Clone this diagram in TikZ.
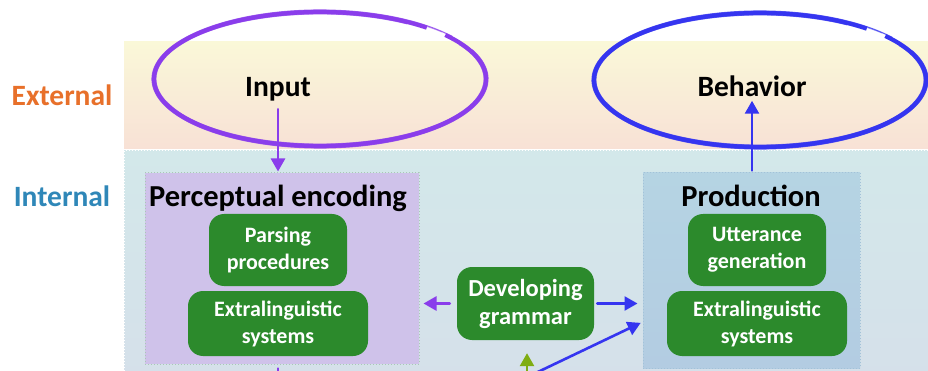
\documentclass[tikz,border=0pt]{standalone}
\usepackage{fontspec}
\setmainfont{Carlito}
\usetikzlibrary{arrows.meta,shapes.geometric}
\definecolor{extC}{HTML}{E8702A}
\definecolor{intC}{HTML}{2F87B8}
\definecolor{purp}{HTML}{8A3DEB}
\definecolor{blu}{HTML}{3535F0}
\definecolor{grn}{HTML}{2C8A2C}
\definecolor{oliveC}{HTML}{7FAD12}
\definecolor{extTop}{HTML}{FAF8D8}
\definecolor{extBot}{HTML}{F8E1D6}
\definecolor{intTop}{HTML}{D3E8EA}
\definecolor{intBot}{HTML}{D5E0EA}
\definecolor{percC}{HTML}{CFC2EA}
\definecolor{percBd}{HTML}{A9C8B6}
\definecolor{prodTop}{HTML}{B5D4E3}
\definecolor{prodBot}{HTML}{B3CCE2}
\definecolor{prodBd}{HTML}{A3C2D8}
\newcommand\brushEllipse[2]{%
  \draw[#2, line width=4.2pt] (#1) ++(50:166pt and 67pt) arc[start angle=50, end angle=401, x radius=166pt, y radius=67pt];
  \draw[#2, line width=1.1pt, opacity=.8] (#1) ++(38:168pt and 69pt) arc[start angle=38, end angle=385, x radius=168pt, y radius=69pt];
  \draw[#2, line width=0.9pt, opacity=.7] (#1) ++(58:164pt and 65pt) arc[start angle=58, end angle=392, x radius=164pt, y radius=65pt];
  \draw[#2, line width=0.7pt, opacity=.45] (#1) ++(44:169.5pt and 67.5pt) arc[start angle=44, end angle=125, x radius=169.5pt, y radius=67.5pt];
  \draw[#2, line width=0.7pt, opacity=.45] (#1) ++(200:163pt and 66pt) arc[start angle=200, end angle=330, x radius=163pt, y radius=66pt];
}
\begin{document}
\begin{tikzpicture}[x=1pt,y=-1pt,
  bigf/.style={font=\fontsize{29.5}{34}\selectfont\bfseries},
  gbox/.style={fill=grn, rounded corners=15pt, text=white, align=center, inner sep=0pt,
    font=\fontsize{22}{27}\selectfont\bfseries},
  conn/.style={line width=2.6pt, line cap=round, -{Triangle[length=13pt,width=14pt]}},
  parrow/.style={conn, draw=purp, color=purp},
  barrow/.style={conn, draw=blu, color=blu},
  garrow/.style={conn, draw=oliveC, color=oliveC}
]
\useasboundingbox (0,0) rectangle (928,371);
\clip (0,0) rectangle (928,371);
\fill[white] (0,0) rectangle (928,371);
% bands
\shade[top color=extTop, bottom color=extBot] (124,42) rectangle (940,149);
\shade[top color=intTop, bottom color=intBot] (124,151) rectangle (940,380);
\draw[white, dotted, line width=1pt] (124,380) -- (124,151) -- (940,151);
% band labels
\node[bigf, text=extC, anchor=base] (extlab) at (62,106) {External};
\node[bigf, text=intC, anchor=base] (intlab) at (62,207) {Internal};
% boxes
\node[fill=percC, draw=percBd, dotted, line width=1pt, minimum width=274pt, minimum height=191pt, inner sep=0pt] (perc) at (282,268.5) {};
\node[top color=prodTop, bottom color=prodBot, draw=prodBd, dotted, line width=1pt, minimum width=217pt, minimum height=195pt, inner sep=0pt] (prod) at (751.5,270.5) {};
\node[bigf, anchor=base, font=\fontsize{30.5}{34}\selectfont\bfseries] (perctitle) at (278,207) {Perceptual encoding};
\node[bigf, anchor=base, font=\fontsize{30.5}{34}\selectfont\bfseries] (prodtitle) at (751,207) {Production};
\node[gbox, minimum width=138pt, minimum height=72pt] (parse) at (278,250) {Parsing\\procedures};
\node[gbox, minimum width=180pt, minimum height=65pt] (extl) at (278,323.5) {Extralinguistic\\systems};
\node[gbox, minimum width=138pt, minimum height=72pt] (utter) at (757,250) {Utterance\\generation};
\node[gbox, minimum width=180pt, minimum height=65pt] (extr) at (757,323.5) {Extralinguistic\\systems};
\node[gbox, minimum width=137pt, minimum height=73pt, font=\fontsize{24.5}{28}\selectfont\bfseries] (dev) at (525.5,303.5) {Developing\\grammar};
% ellipses
\node[ellipse, minimum width=334pt, minimum height=136pt, inner sep=0pt] (inell) at (320,79) {};
\node[ellipse, minimum width=334pt, minimum height=136pt, inner sep=0pt] (bhell) at (760,80) {};
\brushEllipse{inell.center}{purp}
\brushEllipse{bhell.center}{blu}
\node[bigf, anchor=base] (intext) at (278,97) {Input};
\node[bigf, anchor=base] (bhtext) at (752,97) {Behavior};
% connectors
\draw[parrow, shorten <=4pt, shorten >=1pt] (intext.south) -- (intext.south |- perc.north);
\draw[barrow, shorten <=2pt] (prod.north -| bhtext.south) -- (bhtext.south);
\draw[parrow, shorten <=7pt, shorten >=4pt] (dev.west) -- (perc.east |- dev.west);
\draw[barrow, shorten <=3pt, shorten >=5pt] (dev.east) -- (prod.west |- dev.east);
\coordinate (dstart) at (519,381);
\draw[barrow, shorten >=2pt] (dstart) -- (prod.west |- 0,322);
\coordinate (gstart) at (527,395);
\draw[garrow, shorten >=13pt] (gstart) -- (dev.south -| gstart);
\coordinate (pend) at (278,400);
\draw[purp, line width=2.6pt, line cap=round, shorten <=4pt] (intext |- perc.south) -- (pend);
\end{tikzpicture}
\end{document}
